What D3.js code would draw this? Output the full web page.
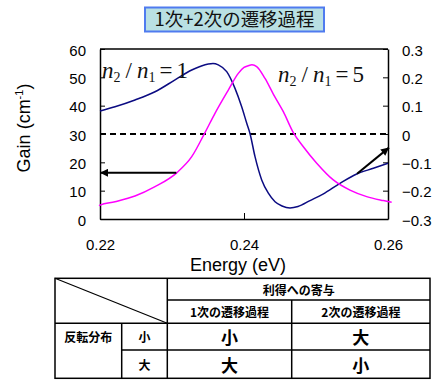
<!DOCTYPE html>
<html>
<head>
<meta charset="utf-8">
<script src="https://cdn.jsdelivr.net/npm/d3@7"></script>
<style>
  html, body { margin: 0; padding: 0; background: #fff; }
  svg { display: block; }
  .tick text { font-family: "Liberation Sans", Arial, sans-serif; }
</style>
</head>
<body>
<svg id="chart" width="432" height="381"></svg>
<script>
// ---- data ----------------------------------------------------------
const titleText = "1次+2次の遷移過程";
const xTicks = [0.22, 0.24, 0.26];
const leftTicks = [0, 10, 20, 30, 40, 50, 60];
const rightTicks = [-0.3, -0.2, -0.1, 0, 0.1, 0.2, 0.3];

// n2/n1 = 1 curve (right axis)
const energyA = [0.22000, 0.22208, 0.22486, 0.22764, 0.23042, 0.23274, 0.23389, 0.23504, 0.23569,
  0.23643, 0.23760, 0.23875, 0.23968, 0.24038, 0.24083, 0.24153, 0.24246, 0.24338, 0.24431,
  0.24528, 0.24639, 0.24750, 0.24917, 0.25097, 0.25333, 0.25565, 0.25796, 0.26000];
const valueA = [0.081, 0.096, 0.120, 0.149, 0.191, 0.226, 0.238, 0.247, 0.249,
  0.244, 0.220, 0.161, 0.096, 0.038, 0.002, -0.080, -0.162, -0.209, -0.239,
  -0.254, -0.261, -0.256, -0.235, -0.212, -0.174, -0.141, -0.121, -0.103];

// n2/n1 = 5 curve (left axis, gain in cm^-1)
const energyB = [0.21986, 0.22000, 0.22208, 0.22486, 0.22764, 0.23065, 0.23274, 0.23458, 0.23597,
  0.23782, 0.23921, 0.24000, 0.24060, 0.24111, 0.24176, 0.24292, 0.24407, 0.24546, 0.24685,
  0.24824, 0.25010, 0.25240, 0.25472, 0.25704, 0.25935, 0.26051];
const gainB = [4.7, 4.9, 6.1, 8.1, 11.4, 16.3, 22.0, 30.5, 37.3,
  45.5, 51.4, 53.5, 54.1, 54.4, 53.8, 49.6, 44.1, 37.9, 30.5,
  25.5, 19.7, 13.8, 10.2, 7.9, 6.5, 5.9];

// arrows pointing each curve to its axis
const arrowLeft = { from: [0.2306, 16.3], to: [0.2200, 16.3] };     // left axis units
const arrowRight = { from: [0.2557, -0.140], to: [0.26014, -0.048] }; // right axis units

// table contents
const tableHeader = "利得への寄与";
const processCols = ["1次の遷移過程", "2次の遷移過程"];
const rowGroup = "反転分布";
const rowLevels = ["小", "大"];
const cellValues = [["小", "大"], ["大", "小"]];

// ---- layout ----------------------------------------------------------
const svg = d3.select("#chart");
const plot = { left: 100, right: 388, top: 49, bottom: 219 };
const sans = "'Liberation Sans', Arial, sans-serif";
const jp = "'Noto Sans CJK JP', sans-serif";
const serif = "'Liberation Serif', 'Times New Roman', serif";

const x = d3.scaleLinear().domain([0.22, 0.26]).range([plot.left, plot.right]);
const yL = d3.scaleLinear().domain([0, 60]).range([plot.bottom, plot.top]);
const yR = d3.scaleLinear().domain([-0.3, 0.3]).range([plot.bottom, plot.top]);

// title box
const tb = svg.append("g");
tb.append("rect").attr("x", 145).attr("y", 7.5).attr("width", 179).attr("height", 24)
  .attr("fill", "#b9e0e3").attr("stroke", "#4f7bef").attr("stroke-width", 2);
tb.append("text").attr("x", 234.5).attr("y", 26).attr("text-anchor", "middle")
  .attr("font-family", jp).attr("font-size", 18).attr("fill", "#111")
  .attr("textLength", 160).attr("lengthAdjust", "spacingAndGlyphs")
  .text(titleText);

// frame (top border)
svg.append("line").attr("x1", plot.left).attr("x2", plot.right)
  .attr("y1", plot.top).attr("y2", plot.top).attr("stroke", "#000").attr("stroke-width", 1.5);

// axes with inward ticks
function styleAxis(g) {
  g.selectAll(".domain").attr("stroke", "#000").attr("stroke-width", 1.5);
  g.selectAll(".tick line").attr("stroke", "#000").attr("stroke-width", 1);
  g.selectAll(".tick text").attr("font-size", 15).attr("fill", "#000");
}
const axL = svg.append("g").attr("transform", `translate(${plot.left},0)`)
  .call(d3.axisLeft(yL).tickValues(leftTicks).tickSizeInner(-5).tickSizeOuter(0).tickPadding(14).tickFormat(d3.format("d")));
styleAxis(axL);
const axR = svg.append("g").attr("transform", `translate(${plot.right},0)`)
  .call(d3.axisRight(yR).tickValues(rightTicks).tickSizeInner(-5).tickSizeOuter(0).tickPadding(14)
    .tickFormat(d => d === 0 ? "0" : d3.format(".1f")(d)));
styleAxis(axR);
const axB = svg.append("g").attr("transform", `translate(0,${plot.bottom})`)
  .call(d3.axisBottom(x).tickValues(xTicks).tickSizeInner(-6).tickSizeOuter(0).tickPadding(20).tickFormat(d3.format(".2f")));
styleAxis(axB);
axL.selectAll(".tick text").attr("dy", "0.4em");
axR.selectAll(".tick text").attr("dy", "0.4em");

// axis titles
svg.append("text").attr("x", 238).attr("y", 271).attr("text-anchor", "middle")
  .attr("font-family", sans).attr("font-size", 18).text("Energy (eV)");
const yt = svg.append("text").attr("transform", "translate(30,128) rotate(-90)")
  .attr("text-anchor", "middle").attr("font-family", sans).attr("font-size", 18);
yt.append("tspan").text("Gain (cm");
yt.append("tspan").attr("font-size", 11).attr("dy", -7).text("-1");
yt.append("tspan").attr("dy", 7).text(")");

// zero reference (dashed)
svg.append("line").attr("x1", x(0.22)).attr("x2", x(0.26))
  .attr("y1", yR(0)).attr("y2", yR(0))
  .attr("stroke", "#000").attr("stroke-width", 2).attr("stroke-dasharray", "6,4");

// curves
const lineA = d3.line().x((d, i) => x(energyA[i])).y(d => yR(d)).curve(d3.curveMonotoneX);
const lineB = d3.line().x((d, i) => x(energyB[i])).y(d => yL(d)).curve(d3.curveMonotoneX);
svg.append("path").attr("d", lineA(valueA)).attr("fill", "none")
  .attr("stroke", "#0b0b82").attr("stroke-width", 1.5);
svg.append("path").attr("d", lineB(gainB)).attr("fill", "none")
  .attr("stroke", "#ff00ff").attr("stroke-width", 1.5);

// arrows
svg.append("defs").append("marker").attr("id", "head")
  .attr("viewBox", "0 0 10 10").attr("refX", 10).attr("refY", 5)
  .attr("markerWidth", 9).attr("markerHeight", 8).attr("markerUnits", "userSpaceOnUse")
  .attr("orient", "auto")
  .append("path").attr("d", "M0,0 L10,5 L0,10 z").attr("fill", "#000");
svg.append("line")
  .attr("x1", x(arrowLeft.from[0])).attr("y1", yL(arrowLeft.from[1]))
  .attr("x2", x(arrowLeft.to[0])).attr("y2", yL(arrowLeft.to[1]))
  .attr("stroke", "#000").attr("stroke-width", 2).attr("marker-end", "url(#head)");
svg.append("line")
  .attr("x1", x(arrowRight.from[0])).attr("y1", yR(arrowRight.from[1]))
  .attr("x2", x(arrowRight.to[0])).attr("y2", yR(arrowRight.to[1]))
  .attr("stroke", "#000").attr("stroke-width", 2).attr("marker-end", "url(#head)");

// ratio labels
function ratioLabel(px, py, value) {
  const t = svg.append("text").attr("x", px).attr("y", py)
    .attr("font-family", serif).attr("font-size", 23).attr("fill", "#111");
  t.append("tspan").attr("font-style", "italic").text("n");
  t.append("tspan").attr("font-size", 14).attr("dy", 4).text("2");
  t.append("tspan").attr("dy", -4).attr("dx", 5).text("/");
  t.append("tspan").attr("dx", 5).attr("font-style", "italic").text("n");
  t.append("tspan").attr("font-size", 14).attr("dy", 4).text("1");
  t.append("tspan").attr("dy", -4).attr("dx", 4).text("=");
  t.append("tspan").attr("dx", 4).text(value);
}
ratioLabel(102, 78, "1");
ratioLabel(278, 82, "5");

// ---- table -----------------------------------------------------------
const colX = [55, 121.7, 167.3, 291.7, 430];
const rowY = [278.3, 300, 323.3, 350, 378.3];
const tg = svg.append("g").attr("stroke", "#000").attr("stroke-width", 1.5);
tg.append("rect").attr("x", colX[0]).attr("y", rowY[0])
  .attr("width", colX[4] - colX[0]).attr("height", rowY[4] - rowY[0]).attr("fill", "none");
const seg = (x1, y1, x2, y2) => tg.append("line").attr("x1", x1).attr("y1", y1).attr("x2", x2).attr("y2", y2);
seg(colX[2], rowY[0], colX[2], rowY[4]);
seg(colX[3], rowY[1], colX[3], rowY[4]);
seg(colX[1], rowY[2], colX[1], rowY[4]);
seg(colX[2], rowY[1], colX[4], rowY[1]);
seg(colX[0], rowY[2], colX[4], rowY[2]);
seg(colX[1], rowY[3], colX[4], rowY[3]);
seg(colX[0], rowY[0], colX[2], rowY[2]).attr("stroke-width", 1.2);

function cellText(cx, cy, s, size) {
  svg.append("text").attr("x", cx).attr("y", cy).attr("text-anchor", "middle")
    .attr("dominant-baseline", "central").attr("font-family", jp).attr("font-weight", "bold")
    .attr("font-size", size).attr("fill", "#000").text(s);
}
const mid = (a, b) => (a + b) / 2;
cellText(mid(colX[2], colX[4]), mid(rowY[0], rowY[1]), tableHeader, 12);
processCols.forEach((s, i) => cellText(mid(colX[2 + i], colX[3 + i]), mid(rowY[1], rowY[2]), s, 12));
cellText(mid(colX[0], colX[1]), mid(rowY[2], rowY[3]), rowGroup, 12);
rowLevels.forEach((s, r) => {
  cellText(mid(colX[1], colX[2]), mid(rowY[2 + r], rowY[3 + r]), s, 12);
  cellValues[r].forEach((v, c) => cellText(mid(colX[2 + c], colX[3 + c]), mid(rowY[2 + r], rowY[3 + r]), v, 17));
});
</script>
</body>
</html>
